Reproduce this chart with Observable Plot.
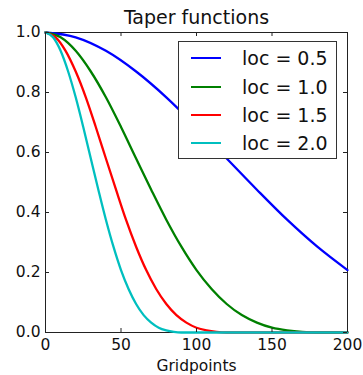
<!DOCTYPE html>
<html><head><meta charset="utf-8">
<script src="https://cdn.jsdelivr.net/npm/d3@7"></script>
<script src="https://cdn.jsdelivr.net/npm/@observablehq/plot@0.6"></script>
<style>
body{margin:0;background:#fff;}
#wrap{position:relative;width:363px;height:375px;font-family:"DejaVu Sans",sans-serif;}
#legend{position:absolute;left:178px;top:41px;width:157px;height:116px;border:1px solid #333;background:#fff;}
.row{position:absolute;left:0;height:0;width:100%;}
.row .ln{position:absolute;left:12px;width:30px;height:0;border-top:2.5px solid;top:-1.25px;}
.row .tx{position:absolute;left:63px;top:-12px;font-size:19px;line-height:24px;white-space:nowrap;color:#111;}
</style></head>
<body>
<div id="wrap"></div>
<script>
// Values
const seriesNames = ["loc = 0.5", "loc = 1.0", "loc = 1.5", "loc = 2.0"];
const seriesColors = ["#0000ff", "#008000", "#ff0000", "#00bfbf"];

const xLoc05 = [0,20,40,60,80,100,120,140,160,180,200];
const yLoc05 = [1.000,0.984,0.939,0.870,0.784,0.685,0.580,0.476,0.376,0.286,0.208];

const xLoc10 = [0,10,20,30,40,50,60,70,80,90,100,110,120,130,140,150,160,170,180,190,200];
const yLoc10 = [1.000,0.984,0.939,0.870,0.784,0.685,0.580,0.476,0.376,0.286,0.208,0.145,0.095,0.058,0.033,0.016,0.007,0.002,0.000,0.000,0.000];

const xLoc15 = [0,6.7,13.3,20,26.7,33.3,40,46.7,53.3,60,66.7,73.3,80,86.7,93.3,100,106.7,113.3,120,133.3,200];
const yLoc15 = [1.000,0.984,0.939,0.870,0.784,0.685,0.580,0.476,0.376,0.286,0.208,0.145,0.095,0.058,0.033,0.016,0.007,0.002,0.000,0.000,0.000];

const xLoc20 = [0,5,10,15,20,25,30,35,40,45,50,55,60,65,70,75,80,85,90,100,200];
const yLoc20 = [1.000,0.984,0.939,0.870,0.784,0.685,0.580,0.476,0.376,0.286,0.208,0.145,0.095,0.058,0.033,0.016,0.007,0.002,0.000,0.000,0.000];

const xTicks = [0,50,100,150,200];
const yTicks = [0.0,0.2,0.4,0.6,0.8,1.0];

const xs = [xLoc05, xLoc10, xLoc15, xLoc20];
const ys = [yLoc05, yLoc10, yLoc15, yLoc20];
const rows = [];
seriesNames.forEach((name, i) => {
  xs[i].forEach((x, j) => rows.push({series: name, x, y: ys[i][j]}));
});

const lineMarks = seriesNames.map((name, i) =>
  Plot.line(rows.filter(d => d.series === name), {
    x: "x", y: "y", stroke: seriesColors[i], strokeWidth: 2.3, curve: "monotone-x"
  })
);

const chart = Plot.plot({
  width: 363, height: 375,
  marginLeft: 45, marginRight: 16, marginTop: 32, marginBottom: 43,
  x: {domain: [0, 200]},
  y: {domain: [0, 1]},
  style: {fontFamily: "DejaVu Sans", fontSize: "15.5px", color: "#111", background: "#fff"},
  marks: [
    Plot.frame({stroke: "#222", strokeWidth: 1}),
    ...lineMarks,
    Plot.tickX(xTicks, {x: d => d, insetTop: 296, stroke: "#222"}),
    Plot.tickX(xTicks, {x: d => d, insetBottom: 296, stroke: "#222"}),
    Plot.tickY(yTicks, {y: d => d, insetRight: 298, stroke: "#222"}),
    Plot.tickY(yTicks, {y: d => d, insetLeft: 298, stroke: "#222"}),
    Plot.axisX(xTicks, {tickSize: 0, tickPadding: 6, tickFormat: d => String(d), label: null}),
    Plot.axisY(yTicks, {tickSize: 0, tickPadding: 5, tickFormat: d => d.toFixed(1), label: null}),
    Plot.text(["Taper functions"], {text: d => d, frameAnchor: "top", dy: -9, lineAnchor: "bottom", fontSize: 19}),
    Plot.text(["Gridpoints"], {text: d => d, frameAnchor: "bottom", dy: 38, lineAnchor: "bottom", fontSize: 15.5})
  ]
});

const wrap = document.getElementById("wrap");
wrap.appendChild(chart);

const legend = document.createElement("div");
legend.id = "legend";
const rowTops = [16, 45, 73, 101];
seriesNames.forEach((name, i) => {
  const r = document.createElement("div");
  r.className = "row";
  r.style.top = rowTops[i] + "px";
  const ln = document.createElement("div");
  ln.className = "ln";
  ln.style.borderTopColor = seriesColors[i];
  const tx = document.createElement("div");
  tx.className = "tx";
  tx.textContent = name;
  r.appendChild(ln); r.appendChild(tx);
  legend.appendChild(r);
});
wrap.appendChild(legend);
</script>
</body></html>
